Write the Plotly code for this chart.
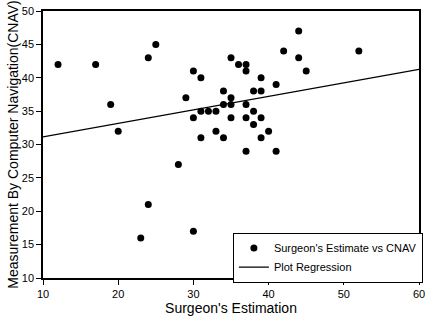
import plotly.graph_objects as go

surgeon_est = [12, 17, 19, 20, 24, 25, 29, 30, 31, 30, 31, 32, 31, 28,
               44, 52, 42, 44, 45, 35, 36, 37, 37, 39, 41, 38, 39, 34, 35,
               34, 35, 37, 33, 38, 35, 37, 39, 38, 33, 34, 39, 40, 37, 41,
               24, 23, 30]
cnav_meas = [42, 42, 36, 32, 43, 45, 37, 41, 40, 34, 35, 35, 31, 27,
             47, 44, 44, 43, 41, 43, 42, 42, 41, 40, 39, 38, 38, 38, 37,
             36, 36, 36, 35, 35, 34, 34, 34, 33, 32, 31, 31, 32, 29, 29,
             21, 16, 17]

reg_x = [10, 60]
reg_y = [31.15, 41.25]

x_ticks = [10, 20, 30, 40, 50, 60]
y_ticks = [10, 15, 20, 25, 30, 35, 40, 45, 50]

FONT = "Liberation Sans, Arial, sans-serif"

fig = go.Figure()
fig.add_trace(go.Scatter(
    x=surgeon_est, y=cnav_meas, mode="markers",
    name="Surgeon's Estimate vs CNAV",
    marker=dict(color="black", size=7),
))
fig.add_trace(go.Scatter(
    x=reg_x, y=reg_y, mode="lines", name="Plot Regression",
    line=dict(color="black", width=1.2),
))

axis_common = dict(
    showgrid=False, zeroline=False, showline=True, linecolor="black",
    linewidth=1.5, mirror=True, ticks="outside", ticklen=5, tickwidth=1.2,
    tickcolor="black", tickfont=dict(family=FONT, size=11, color="black"),
)

fig.update_layout(
    width=430, height=317,
    margin=dict(l=43, r=6, t=5, b=39),
    plot_bgcolor="white", paper_bgcolor="white",
    font=dict(family=FONT, color="black"),
    xaxis=dict(range=[10, 60], tickvals=x_ticks,
               title=dict(text="Surgeon's Estimation",
                          font=dict(family=FONT, size=14), standoff=2),
               **axis_common),
    yaxis=dict(range=[10, 50], tickvals=y_ticks,
               title=dict(text="Measurement By Computer Navigation(CNAV)",
                          font=dict(family=FONT, size=14), standoff=0),
               **axis_common),
    legend=dict(x=0.505, y=0.17, xanchor="left", yanchor="top",
                bordercolor="black", borderwidth=1, bgcolor="white",
                font=dict(family=FONT, size=11), tracegroupgap=0,
                itemwidth=30),
    showlegend=True,
)

fig.write_html("out.html", config={"displayModeBar": False},
               post_script="document.body.style.margin='0';document.body.style.padding='0';")
